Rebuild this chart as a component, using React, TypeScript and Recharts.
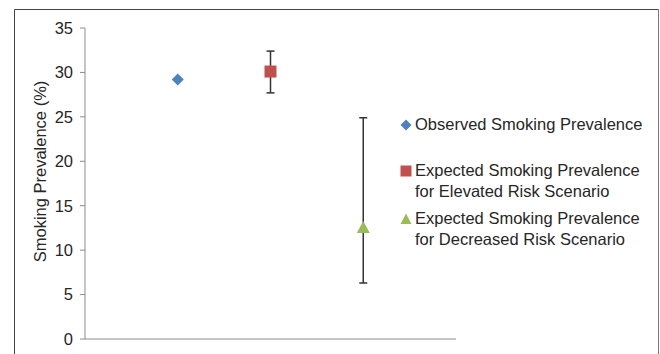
import { ErrorBar, Scatter, ScatterChart, XAxis, YAxis } from 'recharts'

const INK = '#262626'
const AXIS = '#8c8c8c'
const BLUE = '#4f81bd'
const RED = '#c0504d'
const GREEN = '#9bbb59'
const FONT = '"Liberation Sans", Arial, sans-serif'
const FS = 16.5

// category positions on the x axis (ticks at 0..4, points at 1..3)
const xTicks = [0, 1, 2, 3, 4]
const yTicks = [0, 5, 10, 15, 20, 25, 30, 35]

const observed = [{ x: 1, y: 29.2 }]
const elevated = [{ x: 2, y: 30.1, err: [2.4, 2.3] }]
const decreased = [{ x: 3, y: 12.5, err: [6.2, 12.4] }]

const legendItems = [
  { shape: 'diamond', color: BLUE, lines: ['Observed Smoking Prevalence'] },
  { shape: 'square', color: RED, lines: ['Expected Smoking Prevalence', 'for Elevated Risk Scenario'] },
  { shape: 'triangle', color: GREEN, lines: ['Expected Smoking Prevalence', 'for Decreased Risk Scenario'] }
]
const legendTops = [114, 160, 208]

function Diamond({ cx, cy }: any) {
  return <polygon points={`${cx},${cy - 6} ${cx + 6},${cy} ${cx},${cy + 6} ${cx - 6},${cy}`} fill={BLUE} />
}

function Square({ cx, cy }: any) {
  return <rect x={cx - 6} y={cy - 6} width={12} height={12} fill={RED} />
}

function Triangle({ cx, cy }: any) {
  return <polygon points={`${cx},${cy - 7} ${cx + 6.5},${cy + 5} ${cx - 6.5},${cy + 5}`} fill={GREEN} />
}

function Nothing() {
  return <g />
}

function YLabel() {
  const x = 40
  const y = 171.5
  return (
    <text
      x={x}
      y={y}
      transform={`rotate(-90, ${x}, ${y})`}
      textAnchor="middle"
      dominantBaseline="central"
      fill={INK}
      fontSize={16.5}
      fontFamily={FONT}
    >
      Smoking Prevalence (%)
    </text>
  )
}

function LegendMark({ shape, color }: { shape: string; color: string }) {
  return (
    <svg width={12} height={12} style={{ display: 'block' }}>
      {shape === 'diamond' && <polygon points="6,0.5 11.5,6 6,11.5 0.5,6" fill={color} />}
      {shape === 'square' && <rect x={0.5} y={0.5} width={11} height={11} fill={color} />}
      {shape === 'triangle' && <polygon points="6,0.5 11.5,11 0.5,11" fill={color} />}
    </svg>
  )
}

export default function App() {
  return (
    <div style={{ position: 'absolute', left: 0, top: 0, width: 660, height: 354, overflow: 'hidden', fontFamily: FONT }}>
      <div style={{ position: 'absolute', left: 0, top: 0 }}>
        <ScatterChart width={660} height={354} margin={{ top: 28, right: 204, bottom: 5, left: 25 }}>
          <XAxis
            type="number"
            dataKey="x"
            domain={[0, 4]}
            ticks={xTicks}
            tick={false}
            tickSize={-6}
            height={10}
            axisLine={{ stroke: AXIS }}
            tickLine={{ stroke: AXIS }}
          />
          <YAxis
            type="number"
            dataKey="y"
            domain={[0, 35]}
            ticks={yTicks}
            width={60}
            tickSize={5}
            tickMargin={7}
            axisLine={{ stroke: AXIS }}
            tickLine={{ stroke: AXIS }}
            tick={{ fill: INK, fontSize: FS, fontFamily: FONT }}
            label={<YLabel />}
          />
          {/* error bars first so the markers sit on top of them */}
          <Scatter data={elevated} shape={Nothing} isAnimationActive={false}>
            <ErrorBar dataKey="err" direction="y" width={4} stroke="#333" strokeWidth={1.5} />
          </Scatter>
          <Scatter data={decreased} shape={Nothing} isAnimationActive={false}>
            <ErrorBar dataKey="err" direction="y" width={4} stroke="#333" strokeWidth={1.5} />
          </Scatter>
          <Scatter data={observed} shape={Diamond} isAnimationActive={false} />
          <Scatter data={elevated} shape={Square} isAnimationActive={false} />
          <Scatter data={decreased} shape={Triangle} isAnimationActive={false} />
        </ScatterChart>
      </div>
      <svg width={660} height={354} style={{ position: 'absolute', left: 0, top: 0, pointerEvents: 'none' }}>
        <line x1={14.5} y1={9.5} x2={658.5} y2={9.5} stroke="#444" strokeWidth={1} />
        <line x1={14.5} y1={9.5} x2={14.5} y2={354} stroke="#444" strokeWidth={1} />
        <line x1={658.5} y1={9.5} x2={658.5} y2={354} stroke="#777" strokeWidth={1} />
      </svg>
      {legendItems.map((item, i) => (
        <div
          key={i}
          style={{
            position: 'absolute',
            left: 400,
            top: legendTops[i],
            display: 'flex',
            alignItems: 'flex-start',
            fontSize: FS,
            lineHeight: '21px',
            color: INK
          }}
        >
          <div style={{ width: 15, paddingTop: 5 }}>
            <LegendMark shape={item.shape} color={item.color} />
          </div>
          <div>
            {item.lines.map((l, j) => (
              <div key={j}>{l}</div>
            ))}
          </div>
        </div>
      ))}
    </div>
  )
}
